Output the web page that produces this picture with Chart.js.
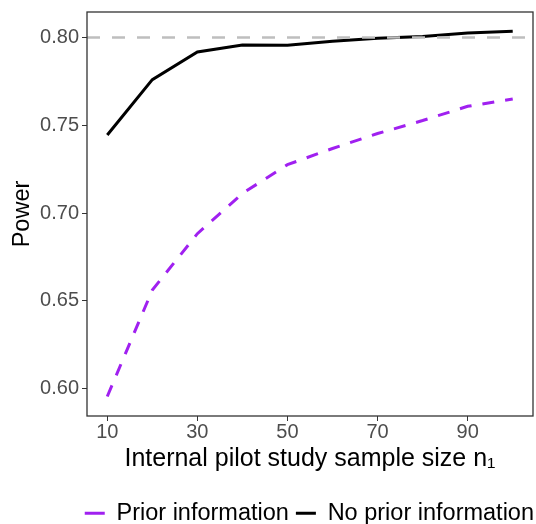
<!DOCTYPE html>
<html>
<head>
    <title>Power vs pilot sample size</title>
    <style>
        body { margin: 0; background: #fff; }
        #wrap { width: 536px; height: 524px; }
    </style>
    <script src="https://cdn.jsdelivr.net/npm/chart.js"></script>
</head>
<body>
    <div id="wrap">
        <canvas id="chart" width="536" height="524"></canvas>
    </div>
    <script>
        const sampleSize = [10, 20, 30, 40, 50, 60, 70, 80, 90, 100];
        const priorInfo = [0.5956, 0.6562, 0.6883, 0.7112, 0.7276, 0.7368, 0.7453, 0.7527, 0.7608, 0.7650];
        const noPriorInfo = [0.7445, 0.7760, 0.7917, 0.7957, 0.7956, 0.7978, 0.7996, 0.8005, 0.8025, 0.8036];
        const targetPower = 0.80;
        const xTicks = [10, 30, 50, 70, 90];
        const yTicks = [0.60, 0.65, 0.70, 0.75, 0.80];
        const xRange = [5.5, 104.5];
        const yRange = [0.5845, 0.8145];

        const font = 'Liberation Sans, Arial, Helvetica, sans-serif';

        function toPoints(xs, ys) {
            return xs.map((x, i) => ({ x: x, y: ys[i] }));
        }

        // panel border like ggplot theme
        const panelBorder = {
            id: 'panelBorder',
            afterLayout(chart) {
                // legend in the original sits a bit further right
                chart.legend.left += 8;
                chart.legend.right += 8;
            },
            afterDraw(chart) {
                const a = chart.chartArea;
                const ctx = chart.ctx;
                ctx.save();
                ctx.strokeStyle = '#333333';
                ctx.lineWidth = 1.3;
                ctx.strokeRect(a.left, a.top, a.right - a.left, a.bottom - a.top);
                ctx.restore();
            }
        };

        const ctx = document.getElementById('chart').getContext('2d');
        const chart = new Chart(ctx, {
            type: 'line',
            data: {
                datasets: [{
                    label: 'target',
                    data: toPoints(xRange, [targetPower, targetPower]),
                    borderColor: '#BEBEBE',
                    borderWidth: 2.5,
                    borderDash: [13, 12],
                    pointRadius: 0,
                    fill: false
                }, {
                    label: 'Prior information',
                    data: toPoints(sampleSize, priorInfo),
                    borderColor: '#A020F0',
                    backgroundColor: '#A020F0',
                    borderWidth: 3,
                    borderDash: [12, 11],
                    pointRadius: 0,
                    fill: false
                }, {
                    label: 'No prior information',
                    data: toPoints(sampleSize, noPriorInfo),
                    borderColor: '#000000',
                    backgroundColor: '#000000',
                    borderWidth: 3,
                    pointRadius: 0,
                    fill: false
                }]
            },
            options: {
                responsive: false,
                animation: false,
                layout: { padding: { top: 12, right: 3, left: 0, bottom: -11 } },
                plugins: {
                    tooltip: { enabled: false },
                    legend: {
                        position: 'bottom',
                        align: 'end',
                        labels: {
                            filter: item => item.text !== 'target',
                            usePointStyle: true,
                            pointStyle: 'line',
                            pointStyleWidth: 20,
                            boxHeight: 3,
                            color: '#000',
                            padding: 7,
                            font: { family: font, size: 23.5 }
                        }
                    }
                },
                scales: {
                    x: {
                        type: 'linear',
                        min: xRange[0],
                        max: xRange[1],
                        afterBuildTicks: s => { s.ticks = xTicks.map(v => ({ value: v })); },
                        afterFit: s => { s.height = 78.5; },
                        grid: { drawOnChartArea: false, tickLength: 5, color: '#333333' },
                        border: { display: false },
                        ticks: {
                            color: '#4D4D4D',
                            padding: -1,
                            maxRotation: 0,
                            font: { family: font, size: 20 }
                        },
                        title: {
                            display: true,
                            text: 'Internal pilot study sample size n\u2081',
                            color: '#000',
                            padding: { top: 0, bottom: 20.5 },
                            font: { family: font, size: 25 }
                        }
                    },
                    y: {
                        type: 'linear',
                        min: yRange[0],
                        max: yRange[1],
                        afterBuildTicks: s => { s.ticks = yTicks.map(v => ({ value: v })); },
                        afterFit: s => { s.width = 87; s.paddingTop = 0; s.paddingBottom = 0; },
                        grid: { drawOnChartArea: false, tickLength: 5, color: '#333333' },
                        border: { display: false },
                        ticks: {
                            color: '#4D4D4D',
                            padding: 3,
                            callback: v => v.toFixed(2),
                            font: { family: font, size: 20 }
                        },
                        title: {
                            display: true,
                            text: 'Power',
                            color: '#000',
                            padding: { top: 8, bottom: 0 },
                            font: { family: font, size: 23.5 }
                        }
                    }
                }
            },
            plugins: [panelBorder]
        });
    </script>
</body>
</html>
